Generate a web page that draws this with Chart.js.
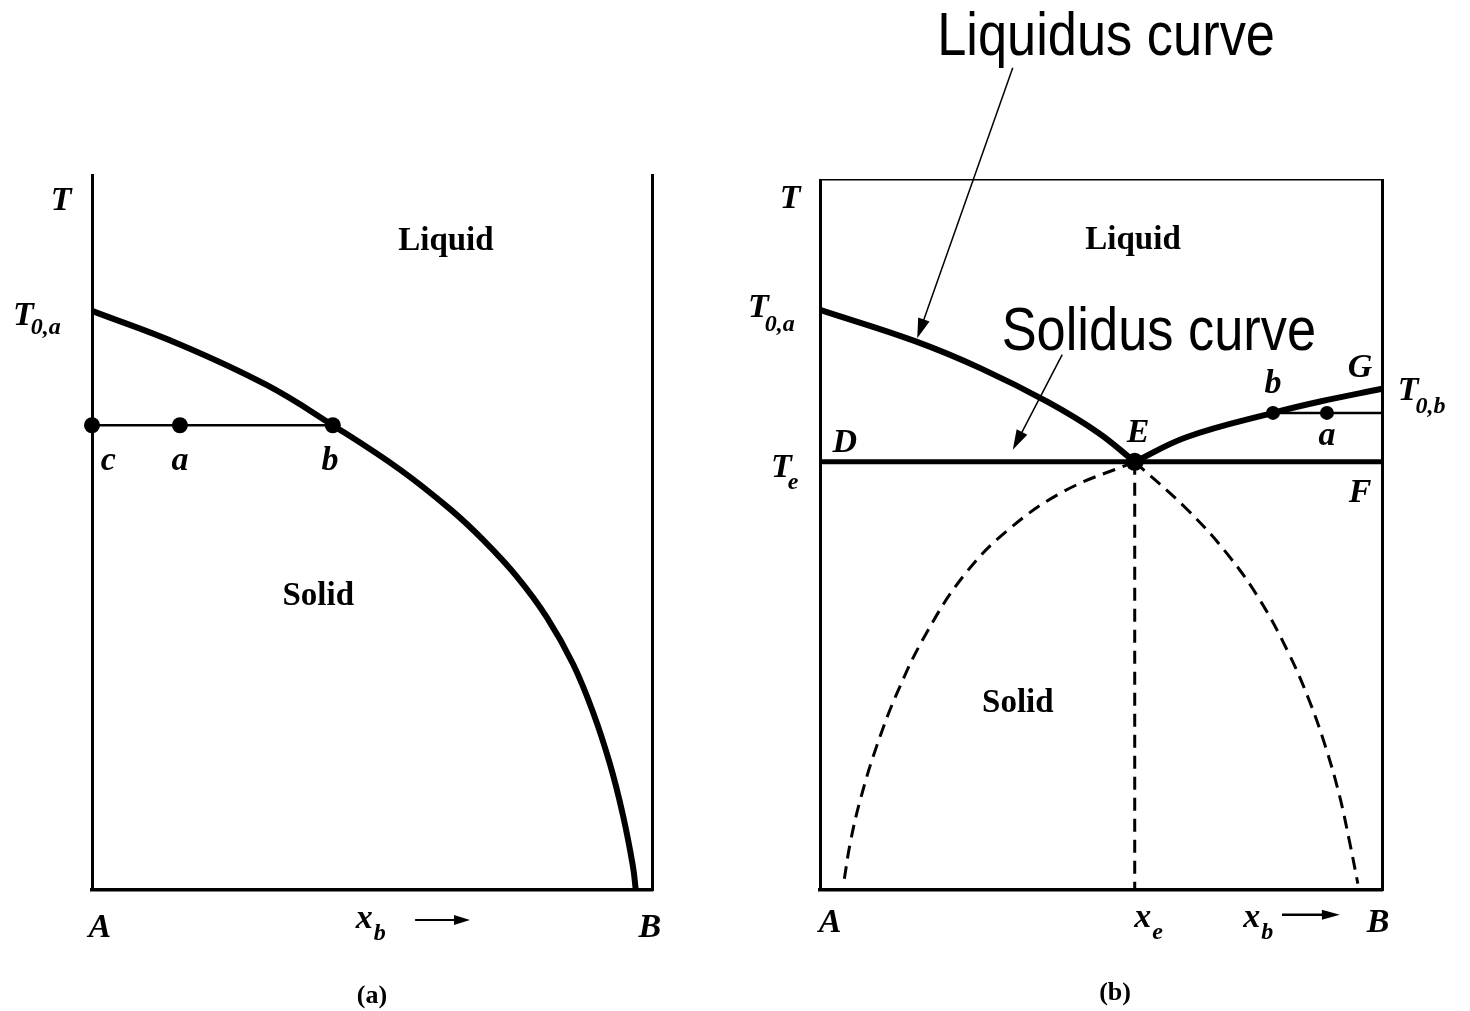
<!DOCTYPE html>
<html>
<head>
<meta charset="utf-8">
<script src="https://cdn.jsdelivr.net/npm/chart.js@4.4.0/dist/chart.umd.min.js"></script>
<style>
  html, body { margin: 0; padding: 0; background: #fff; }
  #wrap { position: relative; width: 1470px; height: 1011px; overflow: hidden; }
  canvas { position: absolute; top: 0; }
  #phase-a { left: 0; }
  #phase-b { left: 735px; }
</style>
</head>
<body>
<div id="wrap">
  <canvas id="phase-a" width="735" height="1011"></canvas>
  <canvas id="phase-b" width="735" height="1011"></canvas>
</div>
<script>
// ---- (a) complete solid solubility: one liquidus curve from T0,a to x_b ~ 0.97
const liqA_x = [0, 0.157, 0.3125, 0.43, 0.55, 0.639, 0.698, 0.759, 0.8125, 0.859, 0.895, 0.925, 0.948, 0.966, 0.971];
const liqA_T = [81.0, 76.3, 70.6, 65.0, 58.8, 53.3, 49.0, 43.8, 38.1, 31.6, 24.8, 17.6, 10.5, 3.3, 0];
const tieA_x = [0, 0.43];          // c ... b
const tieA_T = 65.0;
const ptsA_x = [0, 0.157, 0.43];   // c, a, b

// ---- (b) eutectic system
const liqB1_x = [0, 0.169, 0.288, 0.406, 0.495, 0.56];
const liqB1_T = [81.7, 77.3, 73.4, 68.7, 64.4, 60.3];
const liqB2_x = [0.56, 0.653, 0.806, 0.89, 1.0];
const liqB2_T = [60.3, 63.8, 67.2, 68.8, 70.6];
const eutT = 60.3;                 // T_e, line D-E-F
const xE = 0.56;                   // x_e
const tieB_x = [0.806, 1.0];       // b ... right wall
const tieB_T = 67.2;
const ptsB_x = [0.806, 0.902];     // b, a
const dashL_x = [0.56, 0.435, 0.333, 0.255, 0.188, 0.138, 0.101, 0.072, 0.054, 0.042];
const dashL_T = [60.3, 56.2, 50.6, 44.2, 36.0, 27.9, 20.3, 12.8, 6.7, 0.9];
const dashR_x = [0.56, 0.652, 0.725, 0.783, 0.833, 0.870, 0.899, 0.924, 0.942, 0.957];
const dashR_T = [60.3, 53.7, 47.3, 40.8, 33.5, 26.8, 20.3, 13.4, 6.9, 0.9];

const zip = (xs, ys) => xs.map((x, i) => ({ x: x, y: Array.isArray(ys) ? ys[i] : ys }));

const SERIF = "'Liberation Serif', 'DejaVu Serif', serif";
const ITAL = "italic bold 34px " + SERIF;
const SUB = "italic bold 24px " + SERIF;
const PLAIN = "bold 33px " + SERIF;
const BIG = "62px 'Liberation Sans', Arial, sans-serif";

// labels and arrows are drawn through the chart's own scales
const phaseLabels = {
  id: "phaseLabels",
  afterDraw(chart, args, opts) {
    const { ctx, scales } = chart;
    const X = v => scales.x.getPixelForValue(v), Y = v => scales.y.getPixelForValue(v);
    ctx.save();
    ctx.fillStyle = "#000";
    ctx.strokeStyle = "#000";
    ctx.textBaseline = "alphabetic";
    (opts.items || []).forEach(l => {
      const px = X(l.x), py = Y(l.y);
      ctx.font = l.font;
      ctx.textAlign = l.align || "center";
      const sx = l.sx || 1;
      ctx.save();
      ctx.translate(px, py);
      ctx.scale(sx, 1);
      ctx.fillText(l.text, 0, 0);
      ctx.restore();
      if (l.sub) {
        const w = ctx.measureText(l.text).width * sx;
        const left = (l.align === "left" ? px + w : px + w / 2) + (l.subDx || 0);
        ctx.font = l.subFont || SUB;
        ctx.textAlign = "left";
        ctx.fillText(l.sub, left, py + l.subDy);
      }
    });
    (opts.arrows || []).forEach(a => {
      const x1 = X(a.x1), y1 = Y(a.y1), x2 = X(a.x2), y2 = Y(a.y2);
      const ang = Math.atan2(y2 - y1, x2 - x1);
      const hl = a.head || 18, hw = a.hw || 6;
      ctx.lineWidth = a.width || 1.5;
      ctx.beginPath();
      ctx.moveTo(x1, y1);
      ctx.lineTo(x2 - Math.cos(ang) * hl * 0.8, y2 - Math.sin(ang) * hl * 0.8);
      ctx.stroke();
      ctx.beginPath();
      ctx.moveTo(x2, y2);
      ctx.lineTo(x2 - Math.cos(ang) * hl - Math.sin(ang) * hw, y2 - Math.sin(ang) * hl + Math.cos(ang) * hw);
      ctx.lineTo(x2 - Math.cos(ang) * hl + Math.sin(ang) * hw, y2 - Math.sin(ang) * hl - Math.cos(ang) * hw);
      ctx.closePath();
      ctx.fill();
    });
    ctx.restore();
  },
};

function frameScales(withTop) {
  const hidden = { display: false, drawTicks: false };
  const s = {
    x: { type: "linear", min: 0, max: 1, grid: hidden, ticks: { display: false }, border: { color: "#000", width: 3.5 } },
    y: { type: "linear", min: 0, max: 100, grid: hidden, ticks: { display: false }, border: { color: "#000", width: 3 } },
    yR: { type: "linear", position: "right", min: 0, max: 100, grid: hidden, ticks: { display: false }, border: { color: "#000", width: 3 } },
  };
  if (withTop) {
    s.xT = { type: "linear", position: "top", min: 0, max: 1, grid: hidden, ticks: { display: false }, border: { color: "#000", width: 1.5 } };
  }
  return s;
}

function line(data, width, dash, tension) {
  return {
    data: data, showLine: true, borderColor: "#000", borderWidth: width,
    borderDash: dash || [], pointRadius: 0, tension: tension || 0, clip: false,
  };
}
function dots(data, r) {
  return { data: data, showLine: false, pointRadius: r, pointBackgroundColor: "#000", pointBorderWidth: 0, clip: false };
}

const common = (pad, scales, labels) => ({
  responsive: false,
  animation: false,
  events: [],
  layout: { padding: pad },
  scales: scales,
  plugins: { legend: { display: false }, tooltip: { enabled: false }, phaseLabels: labels },
});

new Chart(document.getElementById("phase-a"), {
  type: "scatter",
  data: {
    datasets: [
      line(zip(liqA_x, liqA_T), 6, null, 0.4),
      line(zip(tieA_x, tieA_T), 2.5),
      dots(zip(ptsA_x, tieA_T), 8),
    ],
  },
  options: common({ left: 92, top: 175, right: 83, bottom: 121 }, frameScales(false), {
    items: [
      { text: "T", x: -0.055, y: 95.1, font: ITAL },
      { text: "T", x: -0.141, y: 79.0, font: ITAL, align: "left", sub: "0,a", subDy: 9, subDx: -3 },
      { text: "c", x: 0.029, y: 58.7, font: ITAL },
      { text: "a", x: 0.157, y: 58.7, font: ITAL },
      { text: "b", x: 0.425, y: 58.7, font: ITAL },
      { text: "Liquid", x: 0.632, y: 89.5, font: PLAIN },
      { text: "Solid", x: 0.404, y: 39.9, font: PLAIN },
      { text: "A", x: 0.014, y: -6.6, font: ITAL },
      { text: "x", x: 0.471, y: -5.3, font: ITAL, align: "left", sub: "b", subDy: 12, subDx: 1 },
      { text: "B", x: 0.996, y: -6.6, font: ITAL },
      { text: "(a)", x: 0.5, y: -15.8, font: "bold 26px " + SERIF },
    ],
    arrows: [{ x1: 0.577, y1: -4.2, x2: 0.675, y2: -4.2, width: 2, head: 16, hw: 5 }],
  }),
  plugins: [phaseLabels],
});

new Chart(document.getElementById("phase-b"), {
  type: "scatter",
  data: {
    datasets: [
      line(zip(liqB1_x, liqB1_T), 6, null, 0.4),
      line(zip(liqB2_x, liqB2_T), 6, null, 0.4),
      line(zip([0, 1], eutT), 5),
      line(zip(tieB_x, tieB_T), 2.5),
      line(zip(dashL_x, dashL_T), 3, [13, 8], 0.4),
      line(zip(dashR_x, dashR_T), 3, [13, 8], 0.4),
      line(zip([xE, xE], [eutT, 0]), 3, [13, 8]),
      dots(zip(ptsB_x, tieB_T), 7),
      dots(zip([xE], eutT), 9),
    ],
  },
  options: common({ left: 85, top: 180, right: 88, bottom: 121 }, frameScales(true), {
    items: [
      { text: "T", x: -0.053, y: 96.1, font: ITAL },
      { text: "T", x: -0.128, y: 80.7, font: ITAL, align: "left", sub: "0,a", subDy: 14, subDx: -4 },
      { text: "Liquid", x: 0.557, y: 90.3, font: PLAIN },
      { text: "D", x: 0.044, y: 61.7, font: ITAL },
      { text: "E", x: 0.566, y: 63.1, font: ITAL },
      { text: "G", x: 0.961, y: 72.3, font: ITAL },
      { text: "b", x: 0.806, y: 70.0, font: ITAL },
      { text: "a", x: 0.902, y: 62.7, font: ITAL },
      { text: "T", x: 1.028, y: 69.0, font: ITAL, align: "left", sub: "0,b", subDy: 13, subDx: -3 },
      { text: "T", x: -0.087, y: 58.2, font: ITAL, align: "left", sub: "e", subDy: 12, subDx: -4 },
      { text: "F", x: 0.961, y: 54.6, font: ITAL },
      { text: "Solid", x: 0.352, y: 25.1, font: PLAIN },
      { text: "A", x: 0.018, y: -5.9, font: ITAL },
      { text: "x", x: 0.559, y: -5.2, font: ITAL, align: "left", sub: "e", subDy: 12, subDx: 1 },
      { text: "x", x: 0.753, y: -5.2, font: ITAL, align: "left", sub: "b", subDy: 12, subDx: 1 },
      { text: "B", x: 0.993, y: -5.9, font: ITAL },
      { text: "(b)", x: 0.525, y: -15.5, font: "bold 26px " + SERIF },
      { text: "Liquidus curve", x: 0.509, y: 117.6, font: BIG, sx: 0.845 },
      { text: "Solidus curve", x: 0.603, y: 76.1, font: BIG, sx: 0.845 },
    ],
    arrows: [
      { x1: 0.822, y1: -3.5, x2: 0.925, y2: -3.5, width: 2.5, head: 18, hw: 5 },
      { x1: 0.343, y1: 115.8, x2: 0.173, y2: 77.7, width: 1.5, head: 20, hw: 6 },
      { x1: 0.431, y1: 75.4, x2: 0.343, y2: 62.0, width: 1.5, head: 20, hw: 6 },
    ],
  }),
  plugins: [phaseLabels],
});
</script>
</body>
</html>
